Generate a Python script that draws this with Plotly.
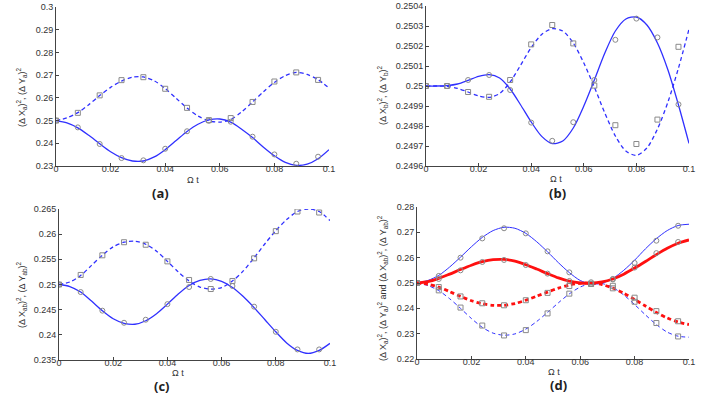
import plotly.graph_objects as go

# --- DATA ---
# curve sampling (Omega t)
x_curve = [0.000, 0.004, 0.008, 0.012, 0.016, 0.020, 0.024, 0.028, 0.032, 0.036,
           0.040, 0.044, 0.048, 0.052, 0.056, 0.060, 0.064, 0.068, 0.072, 0.076,
           0.080, 0.084, 0.088, 0.092, 0.096, 0.100]
# marker positions (numerical points)
x_mark = [0.000, 0.008, 0.016, 0.024, 0.032, 0.040, 0.048, 0.056, 0.064, 0.072,
          0.080, 0.088, 0.096]

# panel (a)
a_x_line = [0.2500, 0.2490, 0.2468, 0.2435, 0.2398, 0.2363, 0.2337, 0.2322, 0.2322, 0.2340,
            0.2372, 0.2412, 0.2452, 0.2484, 0.2503, 0.2507, 0.2493, 0.2462, 0.2425, 0.2383,
            0.2345, 0.2316, 0.2303, 0.2308, 0.2332, 0.2372]
a_y_line = [0.2500, 0.2512, 0.2535, 0.2570, 0.2610, 0.2646, 0.2674, 0.2691, 0.2692, 0.2675,
            0.2641, 0.2598, 0.2555, 0.2520, 0.2499, 0.2493, 0.2505, 0.2538, 0.2582, 0.2627,
            0.2668, 0.2698, 0.2712, 0.2703, 0.2680, 0.2643]
a_x_mark = [0.2500, 0.2470, 0.2397, 0.2335, 0.2325, 0.2376, 0.2453, 0.2499, 0.2495, 0.2429,
            0.2351, 0.2310, 0.2341]
a_y_mark = [0.2500, 0.2534, 0.2611, 0.2678, 0.2691, 0.2640, 0.2556, 0.2502, 0.2511, 0.2582,
            0.2672, 0.2712, 0.2679]

# panel (b)
b_x_line = [0.250000, 0.250000, 0.250002, 0.250010, 0.250028, 0.250048, 0.250057, 0.250040,
            0.249985, 0.249905, 0.249820, 0.249748, 0.249712, 0.249725, 0.249790, 0.249900,
            0.250030, 0.250165, 0.250275, 0.250335, 0.250345, 0.250305, 0.250215, 0.250080,
            0.249905, 0.249713]
b_y_line = [0.250000, 0.250000, 0.249998, 0.249988, 0.249970, 0.249950, 0.249943, 0.249962,
            0.250020, 0.250105, 0.250192, 0.250258, 0.250287, 0.250275, 0.250215, 0.250115,
            0.249995, 0.249865, 0.249750, 0.249675, 0.249653, 0.249690, 0.249785, 0.249920,
            0.250090, 0.250284]
b_x_mark = [0.250000, 0.250000, 0.250030, 0.250055, 0.249980, 0.249817, 0.249726, 0.249819,
            0.250030, 0.250231, 0.250337, 0.250243, 0.249908]
b_y_mark = [0.250000, 0.250000, 0.249970, 0.249946, 0.250030, 0.250208, 0.250305, 0.250213,
            0.250002, 0.249804, 0.249710, 0.249832, 0.250196]

# panel (c)
c_x_line = [0.2500, 0.2496, 0.2485, 0.2467, 0.2448, 0.2432, 0.2423, 0.2421, 0.2428, 0.2442,
            0.2461, 0.2481, 0.2498, 0.2508, 0.2511, 0.2506, 0.2494, 0.2476, 0.2454, 0.2430,
            0.2406, 0.2384, 0.2369, 0.2363, 0.2369, 0.2383]
c_y_line = [0.2500, 0.2505, 0.2518, 0.2538, 0.2558, 0.2575, 0.2584, 0.2586, 0.2580, 0.2566,
            0.2546, 0.2525, 0.2507, 0.2495, 0.2491, 0.2494, 0.2507, 0.2527, 0.2553, 0.2581,
            0.2607, 0.2629, 0.2645, 0.2650, 0.2645, 0.2627]
c_x_mark = [0.2500, 0.2485, 0.2448, 0.2424, 0.2430, 0.2461, 0.2495, 0.2511, 0.2497, 0.2456,
            0.2406, 0.2371, 0.2371]
c_y_mark = [0.2500, 0.2519, 0.2558, 0.2584, 0.2579, 0.2546, 0.2509, 0.2491, 0.2507, 0.2552,
            0.2606, 0.2645, 0.2643]

# panel (d): blue = subsystem a, red = subsystem ab
d_xa_line = [0.2500, 0.2510, 0.2530, 0.2563, 0.2602, 0.2643, 0.2680, 0.2707, 0.2720, 0.2716,
             0.2696, 0.2663, 0.2623, 0.2580, 0.2541, 0.2510, 0.2496, 0.2499, 0.2518, 0.2550,
             0.2590, 0.2635, 0.2675, 0.2707, 0.2727, 0.2732]
d_ya_line = [0.2500, 0.2490, 0.2470, 0.2438, 0.2400, 0.2360, 0.2325, 0.2302, 0.2294, 0.2299,
             0.2318, 0.2348, 0.2384, 0.2422, 0.2457, 0.2484, 0.2498, 0.2498, 0.2482, 0.2453,
             0.2415, 0.2374, 0.2336, 0.2306, 0.2290, 0.2286]
d_xab_line = [0.2500, 0.2505, 0.2518, 0.2535, 0.2553, 0.2570, 0.2584, 0.2592, 0.2593, 0.2586,
              0.2572, 0.2555, 0.2537, 0.2520, 0.2507, 0.2500, 0.2499, 0.2504, 0.2516, 0.2535,
              0.2559, 0.2585, 0.2612, 0.2637, 0.2657, 0.2670]
d_yab_line = [0.2500, 0.2495, 0.2484, 0.2466, 0.2447, 0.2430, 0.2418, 0.2412, 0.2412, 0.2419,
              0.2432, 0.2448, 0.2464, 0.2480, 0.2492, 0.2499, 0.2500, 0.2494, 0.2480, 0.2460,
              0.2435, 0.2409, 0.2384, 0.2362, 0.2346, 0.2336]
d_xa_mark = [0.2500, 0.2528, 0.2600, 0.2676, 0.2716, 0.2696, 0.2625, 0.2542, 0.2503, 0.2516,
             0.2579, 0.2667, 0.2726]
d_ya_mark = [0.2500, 0.2471, 0.2403, 0.2332, 0.2293, 0.2314, 0.2380, 0.2458, 0.2496, 0.2489,
             0.2426, 0.2342, 0.2289]
d_xab_mark = [0.2500, 0.2516, 0.2550, 0.2583, 0.2591, 0.2571, 0.2537, 0.2508, 0.2497, 0.2514,
              0.2561, 0.2618, 0.2662]
d_yab_mark = [0.2500, 0.2484, 0.2447, 0.2420, 0.2412, 0.2432, 0.2461, 0.2488, 0.2497, 0.2479,
              0.2442, 0.2389, 0.2349]

# tick labels
x_ticks = [0, 0.02, 0.04, 0.06, 0.08, 0.1]
x_ticktext = ['0', '0.02', '0.04', '0.06', '0.08', '0.1']
a_yticks = [0.23, 0.24, 0.25, 0.26, 0.27, 0.28, 0.29, 0.30]
a_yticktext = ['0.23', '0.24', '0.25', '0.26', '0.27', '0.28', '0.29', '0.3']
b_yticks = [0.2496, 0.2497, 0.2498, 0.2499, 0.2500, 0.2501, 0.2502, 0.2503, 0.2504]
b_yticktext = ['0.2496', '0.2497', '0.2498', '0.2499', '0.25', '0.2501', '0.2502', '0.2503', '0.2504']
c_yticks = [0.235, 0.240, 0.245, 0.250, 0.255, 0.260, 0.265]
c_yticktext = ['0.235', '0.24', '0.245', '0.25', '0.255', '0.26', '0.265']
d_yticks = [0.22, 0.23, 0.24, 0.25, 0.26, 0.27, 0.28]
d_yticktext = ['0.22', '0.23', '0.24', '0.25', '0.26', '0.27', '0.28']

# --- STYLE ---
W, H = 707, 399
BLUE = '#3030ff'
RED = '#ff1010'
GREY = '#8a8a8a'
DASH = '4px,3px'
FONT = 'Liberation Sans, Arial, sans-serif'

fig = go.Figure()


def add_line(y, ax, color, width, dash=None):
    fig.add_trace(go.Scatter(
        x=x_curve, y=y, mode='lines', xaxis='x' + ax, yaxis='y' + ax,
        line=dict(color=color, width=width, dash=dash, shape='spline', smoothing=0.8),
        showlegend=False, hoverinfo='skip'))


def add_marks(y, ax, symbol):
    fig.add_trace(go.Scatter(
        x=x_mark, y=y, mode='markers', xaxis='x' + ax, yaxis='y' + ax,
        marker=dict(symbol=symbol, size=5, color=GREY, line=dict(color=GREY, width=1)),
        showlegend=False, hoverinfo='skip'))


# (a)
add_line(a_x_line, '', BLUE, 1.3)
add_line(a_y_line, '', BLUE, 1.3, DASH)
add_marks(a_x_mark, '', 'circle-open')
add_marks(a_y_mark, '', 'square-open')
# (b)
add_line(b_x_line, '2', BLUE, 1.3)
add_line(b_y_line, '2', BLUE, 1.3, DASH)
add_marks(b_x_mark, '2', 'circle-open')
add_marks(b_y_mark, '2', 'square-open')
# (c)
add_line(c_x_line, '3', BLUE, 1.3)
add_line(c_y_line, '3', BLUE, 1.3, DASH)
add_marks(c_x_mark, '3', 'circle-open')
add_marks(c_y_mark, '3', 'square-open')
# (d)
add_line(d_xa_line, '4', BLUE, 1.0)
add_line(d_ya_line, '4', BLUE, 1.0, DASH)
add_line(d_xab_line, '4', RED, 2.8)
add_line(d_yab_line, '4', RED, 2.8, DASH)
add_marks(d_xa_mark, '4', 'circle-open')
add_marks(d_xab_mark, '4', 'circle-open')
add_marks(d_ya_mark, '4', 'square-open')
add_marks(d_yab_mark, '4', 'square-open')


# convert window pixels to paper fractions
def px_x(p):
    return p / W


def px_y(p):
    return 1 - p / H


def x_axis(x0, x1, anchor):
    return dict(domain=[px_x(x0), px_x(x1)], range=[0, 0.1], anchor=anchor, automargin=False,
                tickvals=x_ticks, ticktext=x_ticktext, ticks='inside', ticklen=3,
                ticklabelstandoff=-6,
                tickcolor='#444', showline=True, linecolor='#444', linewidth=1,
                showgrid=False, zeroline=False, tickfont=dict(size=9, color='#333'))


def y_axis(y0, y1, rng, vals, text, anchor):
    return dict(domain=[px_y(y1), px_y(y0)], range=rng, anchor=anchor, automargin=False,
                tickvals=vals, ticktext=text, ticks='inside', ticklen=3,
                tickcolor='#444', showline=True, linecolor='#444', linewidth=1,
                showgrid=False, zeroline=False, tickfont=dict(size=9, color='#333'))


ann = []


def label(text, x, y, size=9, angle=0, bold=False):
    ann.append(dict(text=('<b>%s</b>' % text) if bold else text, x=px_x(x), y=px_y(y),
                    xref='paper', yref='paper', showarrow=False, textangle=angle,
                    xanchor='center', yanchor='middle',
                    font=dict(size=size, color='#222' if bold else '#333',
                              family='Open Sans, sans-serif' if bold else FONT)))


label('Ω t', 193, 180)
label('Ω t', 556, 179)
label('Ω t', 178, 373)
label('Ω t', 554, 372)
label('(a)', 160, 193, size=13, bold=True)
label('(b)', 557, 193, size=13, bold=True)
label('(c)', 162, 386, size=13, bold=True)
label('(d)', 558, 385, size=13, bold=True)
label('(Δ X<sub>a</sub>)<sup>2</sup>, (Δ Y<sub>a</sub>)<sup>2</sup>', 22, 97, angle=-90)
label('(Δ X<sub>b</sub>)<sup>2</sup>, (Δ Y<sub>b</sub>)<sup>2</sup>', 382, 95, angle=-90)
label('(Δ X<sub>ab</sub>)<sup>2</sup>, (Δ Y<sub>ab</sub>)<sup>2</sup>', 21, 295, angle=-90)
label('(Δ X<sub>a</sub>)<sup>2</sup>, (Δ Y<sub>a</sub>)<sup>2</sup> and '
      '(Δ X<sub>ab</sub>)<sup>2</sup>, (Δ Y<sub>ab</sub>)<sup>2</sup>', 382, 288, angle=-90)

fig.update_layout(
    width=W, height=H,
    margin=dict(l=0, r=0, t=0, b=0, autoexpand=False),
    paper_bgcolor='white', plot_bgcolor='white',
    font=dict(family=FONT, size=9, color='#333'),
    xaxis=x_axis(56, 329, 'y'),
    yaxis=y_axis(7, 166, [0.23, 0.30], a_yticks, a_yticktext, 'x'),
    xaxis2=x_axis(426, 689, 'y2'),
    yaxis2=y_axis(6, 166, [0.2496, 0.2504], b_yticks, b_yticktext, 'x2'),
    xaxis3=x_axis(59, 330, 'y3'),
    yaxis3=y_axis(209, 360, [0.235, 0.265], c_yticks, c_yticktext, 'x3'),
    xaxis4=x_axis(417, 689, 'y4'),
    yaxis4=y_axis(207, 359, [0.22, 0.28], d_yticks, d_yticktext, 'x4'),
    annotations=ann,
)

# the page's default 8px body margin would push the figure off the window
fig.write_html("out.html", config={'displayModeBar': False},
               post_script="document.body.style.margin = '0';")
